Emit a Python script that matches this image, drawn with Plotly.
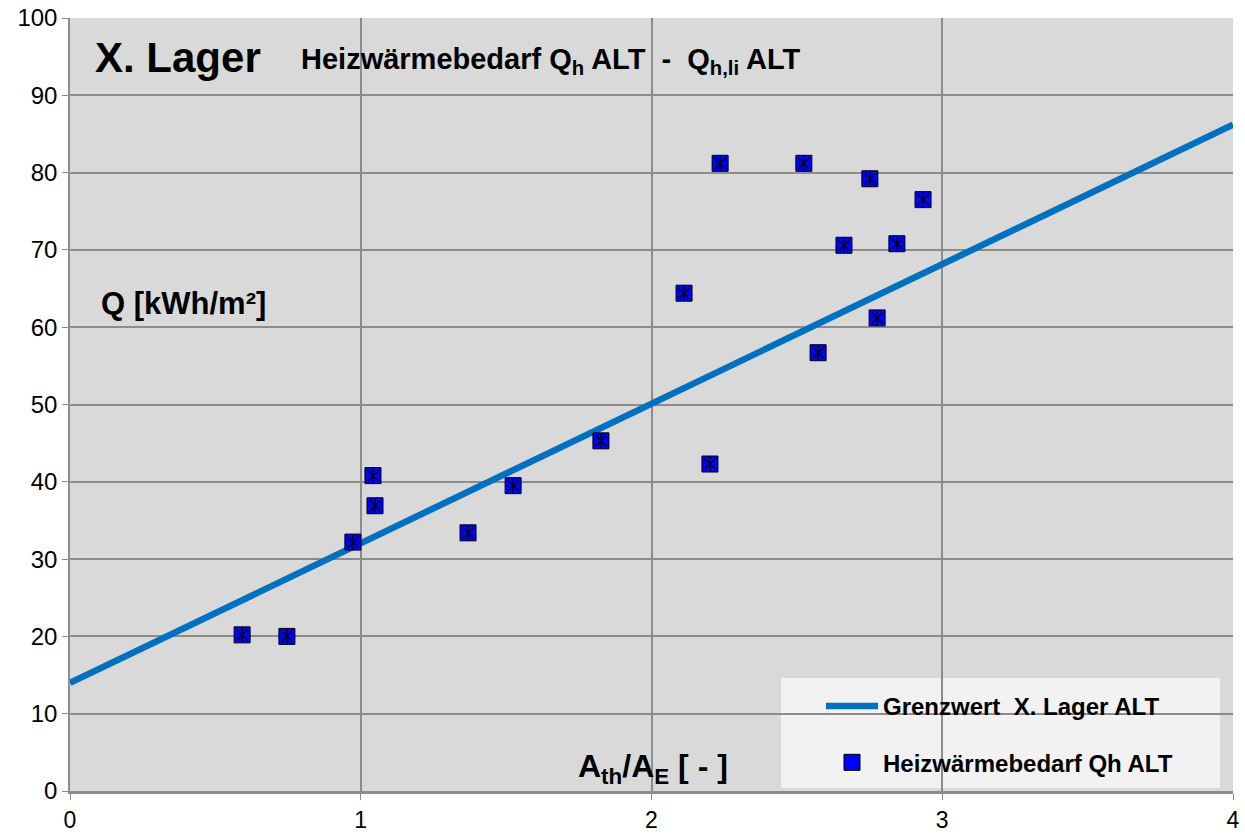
import plotly.graph_objects as go

# Data
x_pts = [0.592, 0.746, 0.973, 1.042, 1.049, 1.369, 1.524, 1.826, 2.112, 2.201,
         2.236, 2.524, 2.573, 2.662, 2.751, 2.776, 2.844, 2.934]
y_pts = [20.2, 20.0, 32.2, 40.8, 36.9, 33.4, 39.5, 45.3, 64.4, 42.3,
         81.2, 81.2, 56.7, 70.6, 79.2, 61.2, 70.8, 76.5]
line_x = [0, 4]
line_y = [14.0, 86.2]
x_ticks = [0, 1, 2, 3, 4]
y_ticks = [0, 10, 20, 30, 40, 50, 60, 70, 80, 90, 100]

FONT = "Liberation Sans, Arial, sans-serif"
NARROW = "Liberation Sans Narrow, Arial Narrow, Liberation Sans, sans-serif"

L, R, T, B = 70, 12, 18, 45
PW, PH = 1245 - L - R, 836 - T - B


def px(xp):
    return (xp - L) / PW


def py(yp):
    return (836 - B - yp) / PH


fig = go.Figure()
fig.add_trace(go.Scatter(x=line_x, y=line_y, mode="lines",
                         line=dict(color="#0070c0", width=6.5),
                         name="<b>Grenzwert  X. Lager ALT</b>", legendgroup="a"))
fig.add_trace(go.Scatter(x=x_pts, y=y_pts, mode="markers",
                         marker=dict(symbol="square", size=16, color="#0000ff",
                                     line=dict(color="#000000", width=1)),
                         name="<b>Heizwärmebedarf Qh ALT</b>", legendgroup="b"))
fig.add_trace(go.Scatter(x=x_pts, y=y_pts, mode="markers",
                         marker=dict(symbol="x-thin-open", size=11, color="#000000",
                                     line=dict(color="#000000", width=1.3)),
                         showlegend=False, hoverinfo="skip"))
fig.add_trace(go.Scatter(x=x_pts, y=y_pts, mode="markers",
                         marker=dict(symbol="line-ns-open", size=10, color="#000000",
                                     line=dict(color="#000000", width=1.3)),
                         showlegend=False, hoverinfo="skip"))

fig.add_shape(type="rect", xref="paper", yref="paper",
              x0=px(781), x1=px(1220), y0=py(788), y1=py(678),
              fillcolor="#f2f2f2", line=dict(width=0), layer="between")

fig.add_annotation(text="<b>X. Lager</b>", xref="paper", yref="paper",
                   x=px(93), y=py(57), xanchor="left", yanchor="middle",
                   showarrow=False, font=dict(size=42, color="#000", family=FONT))
fig.add_annotation(text="<b>Heizwärmebedarf Q<sub>h</sub> ALT  -  Q<sub>h,li</sub> ALT</b>",
                   xref="paper", yref="paper",
                   x=px(299), y=py(61), xanchor="left", yanchor="middle",
                   showarrow=False, font=dict(size=29, color="#000", family=FONT))
fig.add_annotation(text="<b>Q [kWh/m²]</b>", xref="paper", yref="paper",
                   x=px(99), y=py(303), xanchor="left", yanchor="middle",
                   showarrow=False, font=dict(size=31, color="#000", family=FONT))
fig.add_annotation(text="<b>A<sub>th</sub>/A<sub>E</sub> [ - ]</b>", xref="paper", yref="paper",
                   x=px(576), y=py(768), xanchor="left", yanchor="middle",
                   showarrow=False, font=dict(size=32, color="#000", family=FONT))

fig.update_layout(
    width=1245, height=836,
    margin=dict(l=L, r=R, t=T, b=B),
    paper_bgcolor="#ffffff", plot_bgcolor="#d9d9d9",
    showlegend=True,
    legend=dict(x=px(821), y=py(684), xanchor="left", yanchor="top",
                bgcolor="rgba(0,0,0,0)", font=dict(size=24, color="#000", family=FONT),
                tracegroupgap=22, traceorder="grouped", itemwidth=52),
    font=dict(family=FONT, color="#000"),
)
fig.update_xaxes(range=[0, 4], tickvals=x_ticks, showgrid=True, gridcolor="#8c8c8c", gridwidth=1.5,
                 zeroline=False, showline=True, linecolor="#8c8c8c", linewidth=3,
                 ticks="outside", ticklen=6, tickcolor="#8c8c8c",
                 tickfont=dict(size=23, family=NARROW), fixedrange=True, automargin=False)
fig.update_yaxes(range=[0, 100], tickvals=y_ticks, showgrid=True, gridcolor="#8c8c8c", gridwidth=1.5,
                 zeroline=False, showline=True, linecolor="#8c8c8c", linewidth=1.5,
                 ticks="outside", ticklen=6, tickcolor="#8c8c8c",
                 tickfont=dict(size=24, family=FONT), fixedrange=True, automargin=False)

fig.write_html("out.html", config={"displayModeBar": False},
               post_script="document.body.style.margin='0';document.body.style.overflow='hidden';")
